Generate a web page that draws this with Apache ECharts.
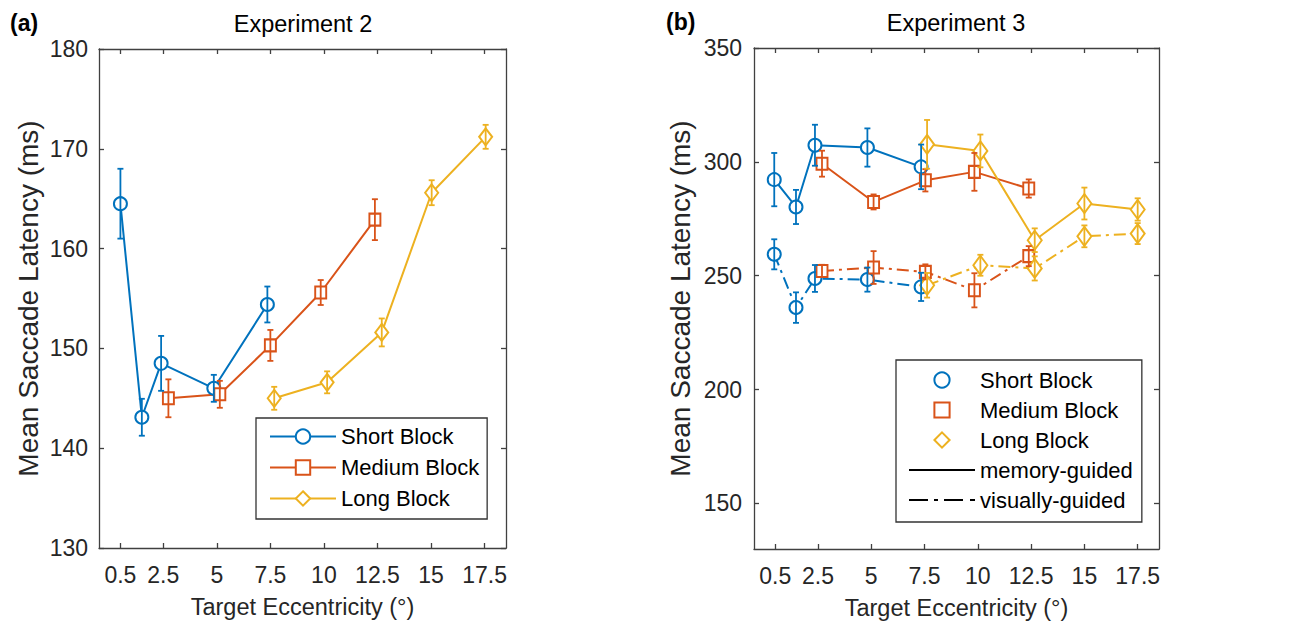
<!DOCTYPE html>
<html>
<head>
<meta charset="utf-8">
<script src="https://cdn.jsdelivr.net/npm/echarts@6/dist/echarts.min.js"></script>
<style>
  html, body { margin: 0; padding: 0; background: #fff; }
  #chart { width: 1297px; height: 626px; }
</style>
</head>
<body>
<div id="chart"></div>
<script>
// tick labels
const xTicks = [0.5, 2.5, 5, 7.5, 10, 12.5, 15, 17.5];
const yTicksExp3 = [150, 200, 250, 300, 350];

// Experiment 2 (memory-guided), x is slightly jittered per block
const exp2ShortX = [0.5, 1.5, 2.4, 4.86, 7.36];
const exp2ShortY = [164.5, 143.1, 148.5, 146.0, 154.4];
const exp2ShortErr = [3.5, 1.85, 2.75, 1.35, 1.8];
const exp2MediumX = [2.74, 5.14, 7.5, 9.85, 12.38];
const exp2MediumY = [145.0, 145.4, 150.3, 155.6, 162.9];
const exp2MediumErr = [1.9, 1.35, 1.55, 1.25, 2.05];
const exp2LongX = [7.68, 10.15, 12.7, 15.03, 17.55];
const exp2LongY = [145.0, 146.6, 151.6, 165.6, 171.2];
const exp2LongErr = [1.15, 1.1, 1.4, 1.25, 1.2];

// Experiment 3
const exp3ShortX = [0.45, 1.47, 2.36, 4.82, 7.34];
const exp3ShortMem = [292.2, 280.2, 307.3, 306.3, 297.8];
const exp3ShortMemErr = [11.7, 7.5, 9.0, 8.4, 9.8];
const exp3ShortVis = [259.4, 236.0, 248.8, 248.3, 245.1];
const exp3ShortVisErr = [6.6, 6.7, 5.9, 5.3, 6.2];
const exp3MediumX = [2.69, 5.11, 7.54, 9.84, 12.39];
const exp3MediumMem = [299.2, 282.4, 291.9, 295.6, 288.3];
const exp3MediumMemErr = [5.7, 3.3, 4.9, 8.3, 4.0];
const exp3MediumVis = [252.1, 253.6, 251.7, 243.6, 258.6];
const exp3MediumVisErr = [2.7, 7.2, 3.3, 7.5, 4.4];
const exp3LongX = [7.62, 10.12, 12.67, 15.0, 17.5];
const exp3LongMem = [307.7, 304.8, 265.6, 281.7, 279.1];
const exp3LongMemErr = [10.7, 7.2, 5.2, 7.0, 4.9];
const exp3LongVis = [245.8, 254.6, 253.2, 267.3, 268.5];
const exp3LongVisErr = [5.4, 4.6, 5.3, 4.8, 4.6];

const BLUE = "#0072BD", ORANGE = "#D95319", YELLOW = "#EDB120";
const AXIS = "#404040", TXT = "#262626";
const FONT = "'Liberation Sans', Arial, sans-serif";
const DASHDOT = [12, 5, 3, 5];

const chart = echarts.init(document.getElementById("chart"), null, { renderer: "svg" });

function pairs(xs, ys) {
  return xs.map((x, i) => [x, ys[i]]);
}

function lineSeries(name, xs, ys, color, symbol, size, axis, dashed) {
  return {
    name: name,
    type: "line",
    xAxisIndex: axis,
    yAxisIndex: axis,
    data: pairs(xs, ys),
    color: color,
    symbol: symbol,
    symbolSize: size,
    itemStyle: { color: color, borderWidth: 2 },
    lineStyle: { color: color, width: 2, type: dashed ? DASHDOT : "solid" },
    z: 3
  };
}

function errSeries(xs, ys, errs, color, axis) {
  return {
    type: "custom",
    xAxisIndex: axis,
    yAxisIndex: axis,
    data: xs.map((x, i) => [x, ys[i] - errs[i], ys[i] + errs[i]]),
    encode: { x: 0, y: [1, 2] },
    z: 4,
    renderItem: function (params, api) {
      const x = api.value(0);
      const lo = api.coord([x, api.value(1)]);
      const hi = api.coord([x, api.value(2)]);
      const c = 3;
      const st = { stroke: color, lineWidth: 1.8 };
      return {
        type: "group",
        children: [
          { type: "line", shape: { x1: lo[0], y1: lo[1], x2: hi[0], y2: hi[1] }, style: st },
          { type: "line", shape: { x1: hi[0] - c, y1: hi[1], x2: hi[0] + c, y2: hi[1] }, style: st },
          { type: "line", shape: { x1: lo[0] - c, y1: lo[1], x2: lo[0] + c, y2: lo[1] }, style: st }
        ]
      };
    }
  };
}

function xAxisCfg(grid, pos, withLabel) {
  return {
    type: "value", gridIndex: grid, position: pos, min: -0.5, max: 18.5,
    splitLine: { show: false },
    axisLine: { show: true, onZero: false, lineStyle: { color: AXIS, width: 1.3 } },
    axisTick: { show: true, inside: true, length: 5, customValues: xTicks, lineStyle: { color: AXIS, width: 1.3 } },
    axisLabel: { show: withLabel, customValues: xTicks, margin: 15, fontSize: 23, fontFamily: FONT, color: TXT },
    name: withLabel ? "Target Eccentricity (°)" : "",
    nameLocation: "middle", nameGap: 47,
    nameTextStyle: { fontSize: 23.5, fontFamily: FONT, color: TXT }
  };
}

function yAxisCfg(grid, pos, withLabel, min, max, custom, margin) {
  const tick = { show: true, inside: true, length: 5, lineStyle: { color: AXIS, width: 1.3 } };
  const label = { show: withLabel, margin: margin, fontSize: 23, fontFamily: FONT, color: TXT };
  const cfg = {
    type: "value", gridIndex: grid, position: pos, min: min, max: max,
    splitLine: { show: false },
    axisLine: { show: true, onZero: false, lineStyle: { color: AXIS, width: 1.3 } },
    axisTick: tick, axisLabel: label,
    name: withLabel ? "Mean Saccade Latency (ms)" : "",
    nameLocation: "middle", nameGap: grid === 0 ? 57 : 60,
    nameTextStyle: { fontSize: 28, fontFamily: FONT, color: TXT }
  };
  if (custom) {
    tick.customValues = custom;
    label.customValues = custom;
  } else {
    cfg.interval = 10;
  }
  return cfg;
}

const noLine = { opacity: 0 };

const option = {
  animation: false,
  backgroundColor: "#fff",
  title: [
    { text: "Experiment 2", left: 303, top: 12, textAlign: "center", padding: 0,
      textStyle: { fontSize: 23.5, fontWeight: "normal", fontFamily: FONT, color: "#000" } },
    { text: "Experiment 3", left: 956, top: 11, textAlign: "center", padding: 0,
      textStyle: { fontSize: 23.5, fontWeight: "normal", fontFamily: FONT, color: "#000" } },
    { text: "(a)", left: 10, top: 11, padding: 0,
      textStyle: { fontSize: 23, fontWeight: "bold", fontFamily: FONT, color: "#000" } },
    { text: "(b)", left: 666, top: 10, padding: 0,
      textStyle: { fontSize: 23, fontWeight: "bold", fontFamily: FONT, color: "#000" } }
  ],
  grid: [
    { left: 99, top: 49, width: 407, height: 499, outerBoundsMode: "none" },
    { left: 754, top: 48, width: 405, height: 501, outerBoundsMode: "none" }
  ],
  xAxis: [
    xAxisCfg(0, "bottom", true),
    xAxisCfg(0, "top", false),
    xAxisCfg(1, "bottom", true),
    xAxisCfg(1, "top", false)
  ],
  yAxis: [
    yAxisCfg(0, "left", true, 130, 180, null, 11),
    yAxisCfg(0, "right", false, 130, 180, null, 11),
    yAxisCfg(1, "left", true, 130, 350, yTicksExp3, 12),
    yAxisCfg(1, "right", false, 130, 350, yTicksExp3, 12)
  ],
  legend: [
    {
      orient: "vertical", left: 256, top: 418,
      padding: [3, 8, 5, 13], itemGap: 0, itemWidth: 66, itemHeight: 18,
      borderColor: "#333", borderWidth: 1.3, backgroundColor: "#fff",
      textStyle: { fontSize: 22, fontFamily: FONT, color: "#000", lineHeight: 31 },
      data: ["Short Block", "Medium Block", "Long Block"]
    },
    {
      orient: "vertical", left: 896, top: 360,
      padding: [5, 9, 7, 12], itemGap: 0, itemWidth: 66, itemHeight: 19,
      borderColor: "#333", borderWidth: 1.3, backgroundColor: "#fff",
      textStyle: { fontSize: 22, fontFamily: FONT, color: "#000", lineHeight: 30 },
      data: [
        { name: "Short Block", lineStyle: noLine },
        { name: "Medium Block", lineStyle: noLine },
        { name: "Long Block", lineStyle: noLine },
        { name: "memory-guided", icon: "path://M0,0H66V2H0Z" },
        { name: "visually-guided", icon: "path://M0,0H19V2H0Z M25,0H29V2H25Z M35,0H54V2H35Z M61,0H66V2H61Z" }
      ]
    }
  ],
  series: [
    // Experiment 2
    lineSeries("Short Block", exp2ShortX, exp2ShortY, BLUE, "emptyCircle", 13, 0, false),
    lineSeries("Medium Block", exp2MediumX, exp2MediumY, ORANGE, "emptyRect", [11, 12], 0, false),
    lineSeries("Long Block", exp2LongX, exp2LongY, YELLOW, "emptyDiamond", [13, 17], 0, false),
    errSeries(exp2ShortX, exp2ShortY, exp2ShortErr, BLUE, 0),
    errSeries(exp2MediumX, exp2MediumY, exp2MediumErr, ORANGE, 0),
    errSeries(exp2LongX, exp2LongY, exp2LongErr, YELLOW, 0),
    // Experiment 3
    lineSeries("Short Block", exp3ShortX, exp3ShortMem, BLUE, "emptyCircle", 13, 2, false),
    lineSeries("Medium Block", exp3MediumX, exp3MediumMem, ORANGE, "emptyRect", [11, 12], 2, false),
    lineSeries("Long Block", exp3LongX, exp3LongMem, YELLOW, "emptyDiamond", [14, 19], 2, false),
    lineSeries("Short Block", exp3ShortX, exp3ShortVis, BLUE, "emptyCircle", 13, 2, true),
    lineSeries("Medium Block", exp3MediumX, exp3MediumVis, ORANGE, "emptyRect", [11, 12], 2, true),
    lineSeries("Long Block", exp3LongX, exp3LongVis, YELLOW, "emptyDiamond", [14, 19], 2, true),
    errSeries(exp3ShortX, exp3ShortMem, exp3ShortMemErr, BLUE, 2),
    errSeries(exp3MediumX, exp3MediumMem, exp3MediumMemErr, ORANGE, 2),
    errSeries(exp3LongX, exp3LongMem, exp3LongMemErr, YELLOW, 2),
    errSeries(exp3ShortX, exp3ShortVis, exp3ShortVisErr, BLUE, 2),
    errSeries(exp3MediumX, exp3MediumVis, exp3MediumVisErr, ORANGE, 2),
    errSeries(exp3LongX, exp3LongVis, exp3LongVisErr, YELLOW, 2),
    // legend-only entries for line styles
    { name: "memory-guided", type: "line", xAxisIndex: 2, yAxisIndex: 2, data: [], color: "#000", symbol: "none" },
    { name: "visually-guided", type: "line", xAxisIndex: 2, yAxisIndex: 2, data: [], color: "#000", symbol: "none" }
  ]
};

chart.setOption(option);
window.addEventListener("resize", () => chart.resize());
</script>
</body>
</html>
